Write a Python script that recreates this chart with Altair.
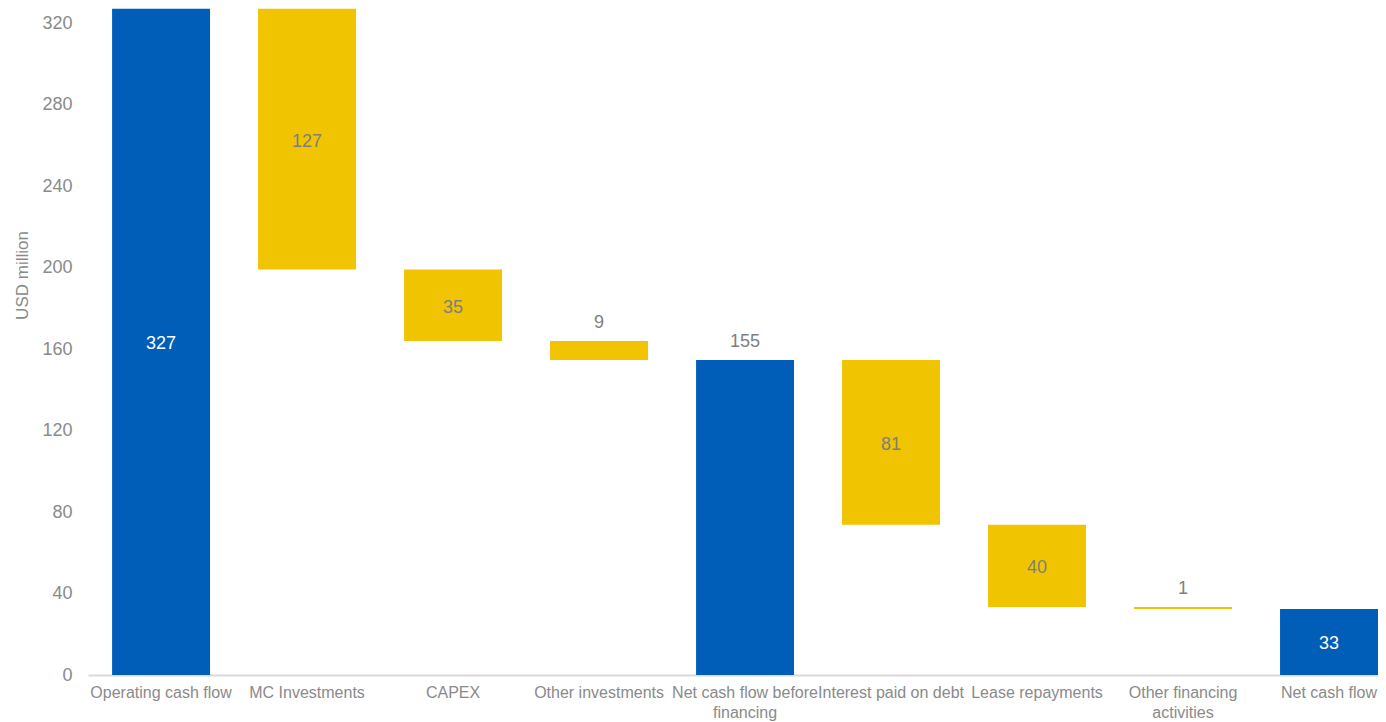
import altair as alt
import pandas as pd

categories = ["Operating cash flow", "MC Investments", "CAPEX", "Other investments",
              "Net cash flow before financing", "Interest paid on debt", "Lease repayments",
              "Other financing activities", "Net cash flow"]
# bar sizes (USD million); totals are levels, others are changes
values = [327.0, -128.0, -35.1, -9.3, 154.6, -80.8, -40.4, -1.0, 32.4]
is_total = [True, False, False, False, True, False, False, False, True]
label_text = ["327", "127", "35", "9", "155", "81", "40", "1", "33"]
label_above = [False, False, False, True, True, False, False, True, False]
y_ticks = [0, 40, 80, 120, 160, 200, 240, 280, 320]

wrap = {"Net cash flow before financing": ["Net cash flow before", "financing"],
        "Other financing activities": ["Other financing", "activities"]}

rows = []
run = 0.0
for c, v, t, lt, la in zip(categories, values, is_total, label_text, label_above):
    if t:
        lo, hi = 0.0, float(v)
        run = float(v)
    else:
        lo, hi = run + v, run
        run = run + v
    rows.append({"cat": c, "lo": lo, "hi": hi, "kind": "total" if t else "delta",
                 "lab": lt, "above": la,
                 "ly": hi if la else (lo + hi) / 2,
                 "lcolor": "white" if (t and not la) else "#7f7f7f"})
df = pd.DataFrame(rows)

label_expr = "".join(
    f"datum.label == '{k}' ? {v!r} : " for k, v in wrap.items()
) + "datum.label"

x = alt.X("cat:N", sort=categories, title=None,
          scale=alt.Scale(paddingInner=0.329, paddingOuter=0.0825, align=1),
          axis=alt.Axis(labelAngle=0, labelFont="Liberation Sans", labelFontSize=16,
                        labelColor="#8a8a8a", labelPadding=9, labelLimit=400,
                        labelLineHeight=20, ticks=False, domainColor="#d9d9d9",
                        domainWidth=2, labelExpr=label_expr))

y_scale = alt.Scale(domain=[0, 327.4], nice=False)

bars = alt.Chart(df).mark_bar(clip=True).encode(
    x=x,
    y=alt.Y("lo:Q", scale=y_scale, title="USD million",
            axis=alt.Axis(values=y_ticks, grid=False, domain=False, ticks=False,
                          labelFont="Liberation Sans", labelFontSize=18,
                          labelColor="#8a8a8a", labelPadding=16,
                          titleFont="Liberation Sans", titleFontSize=17,
                          titleFontWeight="normal", titleColor="#8a8a8a",
                          titleX=-66, titleY=267, titleBaseline="middle",
                          titleAlign="center")),
    y2="hi:Q",
    color=alt.Color("kind:N", scale=alt.Scale(domain=["total", "delta"],
                                              range=["#005EB8", "#F0C400"]),
                    legend=None),
)

text_mid = alt.Chart(df).transform_filter("!datum.above").mark_text(
    font="Liberation Sans", fontSize=18, baseline="middle", align="center", dy=2.5
).encode(
    x=alt.X("cat:N", sort=categories),
    y=alt.Y("ly:Q", scale=y_scale),
    text="lab:N",
    color=alt.Color("lcolor:N", scale=None),
)

text_above = alt.Chart(df).transform_filter("datum.above").mark_text(
    font="Liberation Sans", fontSize=18, baseline="middle", align="center", dy=-18
).encode(
    x=alt.X("cat:N", sort=categories),
    y=alt.Y("ly:Q", scale=y_scale),
    text="lab:N",
    color=alt.value("#7f7f7f"),
)

chart = alt.layer(bars, text_mid, text_above).properties(
    width=1290, height=667,
    autosize="none",
    background="white",
    padding={"left": 80, "top": 0, "right": 0, "bottom": 46},
).configure_view(stroke=None)

chart.save("out.html", embed_options={"renderer": "svg", "actions": False})
